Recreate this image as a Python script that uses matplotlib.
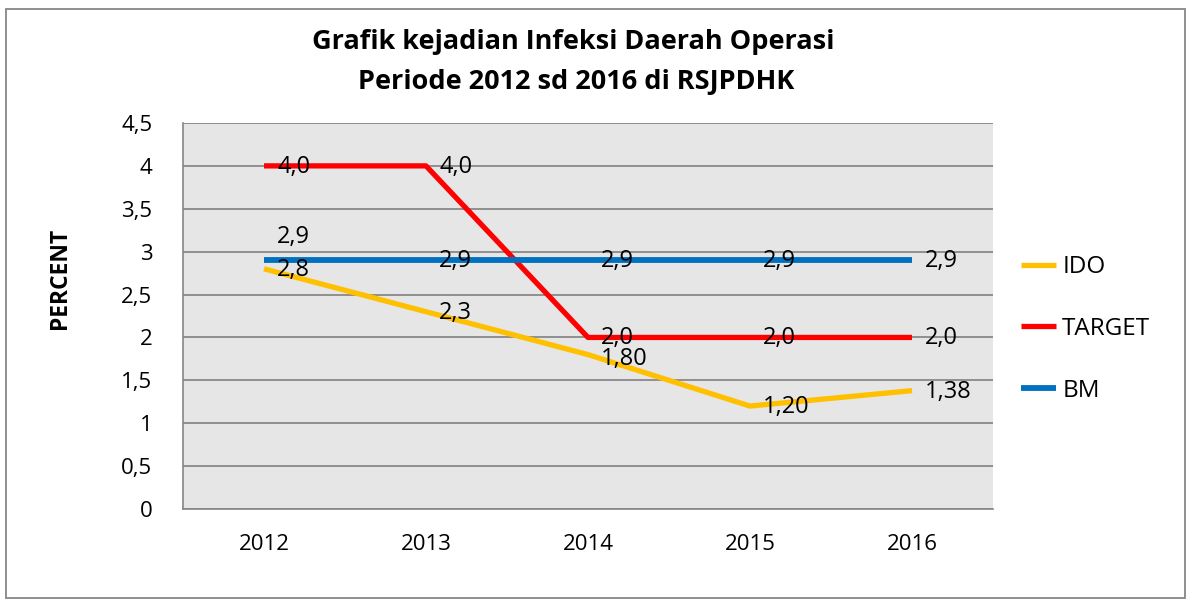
import matplotlib
matplotlib.use("Agg")
import matplotlib.pyplot as plt
from matplotlib.patches import Rectangle

# ==============================
# DATA
# ==============================
tahun = ["2012", "2013", "2014", "2015", "2016"]
ido = [2.8, 2.3, 1.8, 1.2, 1.38]
target = [4.0, 4.0, 2.0, 2.0, 2.0]
bm = [2.9, 2.9, 2.9, 2.9, 2.9]
label_ido = ["2,8", "2,3", "1,80", "1,20", "1,38"]
label_target = ["4,0", "4,0", "2,0", "2,0", "2,0"]
label_bm = ["2,9", "2,9", "2,9", "2,9", "2,9"]
yticks = [0, 0.5, 1, 1.5, 2, 2.5, 3, 3.5, 4, 4.5]
ytick_labels = ["0", "0,5", "1", "1,5", "2", "2,5", "3", "3,5", "4", "4,5"]

plt.rcParams["font.family"] = ["Open Sans", "DejaVu Sans"]

W, H = 1187, 606
fig = plt.figure(figsize=(W / 100, H / 100), dpi=100)

# moldura externa
fig.patches.append(Rectangle((6 / W, 1 - 598 / H), (1185 - 6) / W, (598 - 9) / H,
                             transform=fig.transFigure, fill=False,
                             edgecolor="#868686", linewidth=1.3))

ax = fig.add_axes([183 / W, 1 - 509 / H, 810 / W, 386 / H])
ax.set_facecolor("#e6e6e6")

x = list(range(len(tahun)))
ax.plot(x, ido, color="#ffc000", linewidth=3.8, label="IDO", solid_capstyle="butt")
ax.plot(x, target, color="#ff0000", linewidth=3.8, label="TARGET", solid_capstyle="butt")
ax.plot(x, bm, color="#0070c0", linewidth=4.2, label="BM", solid_capstyle="butt")

# rótulos de dados (à direita do ponto)
fs = 16
fs_rotulo = 17
for serie, labels in [(ido, label_ido), (target, label_target), (bm, label_bm)]:
    for i, (v, t) in enumerate(zip(serie, labels)):
        dy = 0
        if serie is bm and i == 0:
            dy = 24
        elif serie is ido and i == 2:
            dy = -3
        ax.annotate(t, (i, v), xytext=(13, dy - 1), textcoords="offset pixels",
                    ha="left", va="center", fontsize=fs_rotulo, color="black")

ax.set_xlim(-0.5, 4.5)
ax.set_ylim(0, 4.5)
ax.set_xticks(x)
ax.set_xticklabels(tahun)
ax.set_yticks(yticks)
ax.set_yticklabels(ytick_labels)
ax.tick_params(axis="both", length=0, labelsize=fs)
ax.tick_params(axis="y", pad=22)
ax.tick_params(axis="x", pad=18)
ax.grid(axis="y", color="#808080", linewidth=1.2)
ax.set_axisbelow(True)
for lado in ["top", "right"]:
    ax.spines[lado].set_visible(False)
for lado in ["left", "bottom"]:
    ax.spines[lado].set_color("#868686")
    ax.spines[lado].set_linewidth(1.2)

fig.text(60 / W, 1 - 278 / H, "PERCENT", rotation=90, ha="center", va="center",
         fontsize=16.5, fontweight="bold")

fig.text(573 / W, 1 - 42 / H, "Grafik kejadian Infeksi Daerah Operasi",
         ha="center", va="center", fontsize=19.5, fontweight="bold")
fig.text(576 / W, 1 - 82 / H, "Periode 2012 sd 2016 di RSJPDHK",
         ha="center", va="center", fontsize=19.5, fontweight="bold")

fig.legend(loc="center left", bbox_to_anchor=(999 / W, 1 - 329 / H), frameon=False,
           fontsize=17.5, handlelength=1.45, handletextpad=0.25, labelspacing=1.55)

fig.savefig("out.png", dpi=100)
